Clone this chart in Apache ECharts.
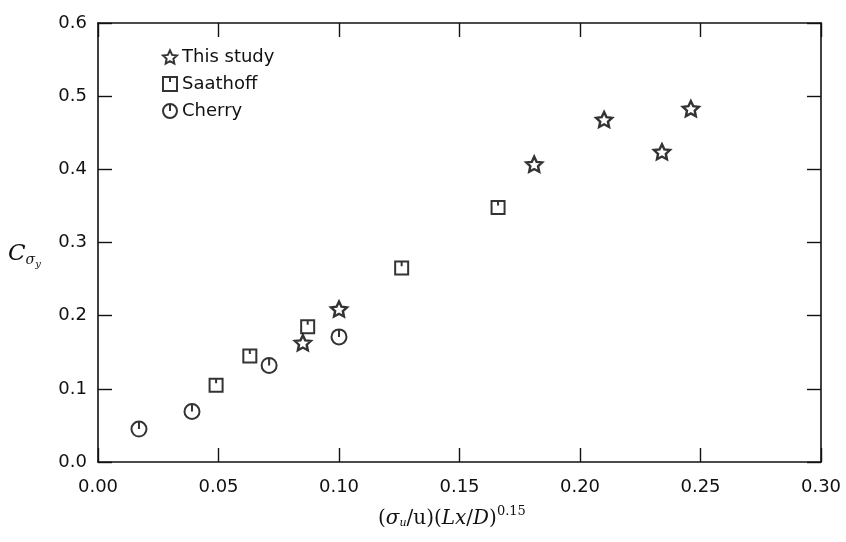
<!DOCTYPE html>
<html>
<head>
<meta charset="utf-8">
<script src="https://cdn.jsdelivr.net/npm/echarts@6/dist/echarts.min.js"></script>
<style>html,body{margin:0;padding:0;background:#fff;}#c{width:846px;height:542px;}</style>
</head>
<body>
<div id="c"></div>
<script>
// ---- data ----
var seriesNames = ['This study', 'Saathoff', 'Cherry'];
var thisStudyX = [0.085, 0.100, 0.181, 0.210, 0.234, 0.246];
var thisStudyY = [0.163, 0.209, 0.407, 0.468, 0.424, 0.483];
var saathoffX = [0.049, 0.063, 0.087, 0.126, 0.166];
var saathoffY = [0.105, 0.145, 0.185, 0.265, 0.348];
var cherryX = [0.017, 0.039, 0.071, 0.100];
var cherryY = [0.045, 0.069, 0.132, 0.171];
var xTicks = [0.00, 0.05, 0.10, 0.15, 0.20, 0.25, 0.30];
var yTicks = [0.0, 0.1, 0.2, 0.3, 0.4, 0.5, 0.6];

function pairs(xs, ys) { return xs.map(function (x, i) { return [x, ys[i]]; }); }

var starPath = 'path://M10 0 L12.9 6.2 L19.51 6.91 L14.6 11.5 L15.88 18.09 L10 14.8 L4.12 18.09 L5.4 11.5 L0.49 6.91 L7.1 6.2 Z';
var squarePath = 'path://M0 0 L10 0 L10 10 L0 10 Z M5 0 L5 3.5';
var circlePath = 'path://M5 0 A5 5 0 0 1 5 10 A5 5 0 0 1 5 0 Z M5 0 L5 5';

var ink = '#000000';
var tickFont = { fontFamily: 'DejaVu Sans', fontSize: 18, color: '#111' };

var chart = echarts.init(document.getElementById('c'));
function axisCommon() {
  return {
    axisLine: { show: true, onZero: false, lineStyle: { color: '#111', width: 1.6 } },
    axisTick: { show: true, inside: true, length: 14, lineStyle: { color: '#111', width: 1.4 } },
    splitLine: { show: false }
  };
}
chart.setOption({
  backgroundColor: '#ffffff',
  animation: false,
  grid: { left: 98, right: 25, top: 23, bottom: 80 },
  legend: {
    orient: 'vertical', left: 157, top: 43,
    itemWidth: 14, itemHeight: 14, itemGap: 9,
    textStyle: { fontFamily: 'DejaVu Sans', fontSize: 18, color: '#111' },
    data: seriesNames.map(function (n) { return { name: n }; })
  },
  xAxis: [
    Object.assign({
      type: 'value', position: 'bottom', min: xTicks[0], max: xTicks[xTicks.length - 1], interval: 0.05,
      axisLabel: Object.assign({ margin: 16, formatter: function (v) { return v.toFixed(2); } }, tickFont)
    }, axisCommon()),
    Object.assign({
      type: 'value', position: 'top', min: xTicks[0], max: xTicks[xTicks.length - 1], interval: 0.05,
      axisLabel: { show: false }
    }, axisCommon())
  ],
  yAxis: [
    Object.assign({
      type: 'value', position: 'left', min: yTicks[0], max: yTicks[yTicks.length - 1], interval: 0.1,
      axisLabel: Object.assign({ margin: 11, formatter: function (v) { return v.toFixed(1); } }, tickFont)
    }, axisCommon()),
    Object.assign({
      type: 'value', position: 'right', min: yTicks[0], max: yTicks[yTicks.length - 1], interval: 0.1,
      axisLabel: { show: false }
    }, axisCommon())
  ],
  series: [
    { name: seriesNames[0], type: 'scatter', symbol: starPath, symbolSize: [16, 15],
      itemStyle: { color: 'rgba(255,255,255,0)', borderColor: ink, borderWidth: 2.4 },
      data: pairs(thisStudyX, thisStudyY) },
    { name: seriesNames[1], type: 'scatter', symbol: squarePath, symbolSize: 13,
      itemStyle: { color: 'rgba(255,255,255,0)', borderColor: ink, borderWidth: 2 },
      data: pairs(saathoffX, saathoffY) },
    { name: seriesNames[2], type: 'scatter', symbol: circlePath, symbolSize: 15,
      itemStyle: { color: 'rgba(255,255,255,0)', borderColor: ink, borderWidth: 2 },
      data: pairs(cherryX, cherryY) }
  ],
  graphic: [
    { type: 'text', left: 8, top: 243,
      style: { rich: {
        c: { fontFamily: 'DejaVu Serif', fontStyle: 'italic', fontSize: 23, fill: '#111' },
        s: { fontFamily: 'DejaVu Serif', fontStyle: 'italic', fontSize: 14, fill: '#111', padding: [12, 0, 0, 0] },
        y: { fontFamily: 'DejaVu Serif', fontStyle: 'italic', fontSize: 10, fill: '#111', padding: [19, 0, 0, 0] }
      }, text: '{c|C}{s|σ}{y|y}' } },
    { type: 'text', left: 378, top: 505,
      style: { rich: {
        n: { fontFamily: 'DejaVu Serif', fontSize: 20, fill: '#111' },
        i: { fontFamily: 'DejaVu Serif', fontStyle: 'italic', fontSize: 20, fill: '#111' },
        sub: { fontFamily: 'DejaVu Serif', fontStyle: 'italic', fontSize: 11, fill: '#111', padding: [10, 0, 0, 0] },
        sup: { fontFamily: 'DejaVu Serif', fontSize: 13, fill: '#111', padding: [0, 0, 14, 0] }
      }, text: '{n|(}{i|σ}{sub|u}{n|/u)(}{i|Lx}{n|/}{i|D}{n|)}{sup|0.15}' } }
  ]
});
</script>
</body>
</html>
